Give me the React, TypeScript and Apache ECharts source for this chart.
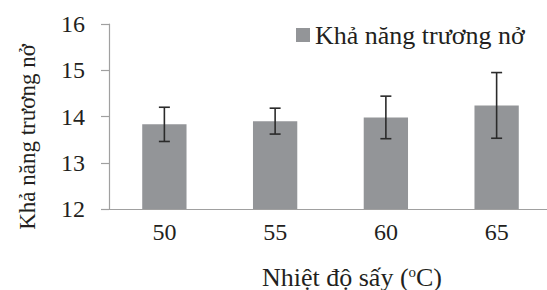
import React, { useEffect, useRef } from "react";
import * as echarts from "echarts";

const categories = ["50", "55", "60", "65"];
const values = [13.83, 13.9, 13.98, 14.24];
const errors = [0.37, 0.28, 0.46, 0.71];
const seriesName = "Khả năng trương nở";
const yTicks = { min: 12, max: 16, interval: 1 };
const xTitle = "Nhiệt độ sấy ({sup|o}C)";
const yTitle = "Khả năng trương nở";

const FONT = "Liberation Serif";
const TEXT = "#231f20";
const AXIS = "#a0a0a0";

const tickRich = { t: { fontFamily: FONT, fontSize: 24, color: TEXT, fontWeight: "normal" } };

export default function App() {
  const ref = useRef<HTMLDivElement>(null);
  useEffect(() => {
    if (!ref.current) return;
    const chart = echarts.init(ref.current, undefined, { renderer: "svg" });
    const errData = values.map((v, i) => [i, v - errors[i], v + errors[i]]);
    chart.setOption({
      animation: false,
      textStyle: { fontFamily: FONT, color: TEXT },
      grid: { left: 109, right: -5, top: 24, bottom: 81, outerBoundsMode: "none", containLabel: false },
      legend: {
        data: [seriesName],
        left: 291,
        top: 17,
        itemWidth: 14,
        itemHeight: 14,
        icon: "rect",
        textStyle: { fontFamily: FONT, fontSize: 26, color: TEXT },
      },
      xAxis: {
        type: "category",
        data: categories,
        axisLine: { lineStyle: { color: AXIS, width: 1.2 } },
        axisTick: { length: 6, lineStyle: { color: AXIS, width: 1.2 } },
        axisLabel: {
          fontFamily: FONT,
          fontSize: 24,
          color: TEXT,
          margin: 11,
          formatter: (v: string) => `{t|${v}}`,
          rich: tickRich,
        },
      },
      yAxis: {
        type: "value",
        min: yTicks.min,
        max: yTicks.max,
        interval: yTicks.interval,
        splitLine: { show: false },
        axisLine: { show: true, lineStyle: { color: AXIS, width: 1.2 } },
        axisTick: { show: true, length: 8, lineStyle: { color: AXIS, width: 1.2 } },
        axisLabel: {
          fontFamily: FONT,
          fontSize: 24,
          color: TEXT,
          margin: 24,
          formatter: (v: number) => `{t|${v}}`,
          rich: tickRich,
        },
      },
      graphic: [
        {
          type: "text",
          x: 27,
          y: 137,
          rotation: Math.PI / 2,
          style: {
            text: yTitle,
            fontFamily: FONT,
            fontSize: 23,
            fill: TEXT,
            align: "center",
            verticalAlign: "middle",
          },
        },
        {
          type: "text",
          x: 352,
          y: 277,
          style: {
            text: xTitle,
            fontFamily: FONT,
            fontSize: 26,
            fill: TEXT,
            align: "center",
            verticalAlign: "middle",
            rich: {
              sup: { fontFamily: FONT, fontSize: 15, fill: TEXT, verticalAlign: "top", padding: [0, 0, 8, 0] },
            },
          },
        },
      ],
      series: [
        {
          name: seriesName,
          type: "bar",
          data: values,
          barWidth: "40%",
          itemStyle: { color: "#939598" },
        },
        {
          type: "custom",
          data: errData,
          encode: { x: 0, y: [1, 2] },
          z: 10,
          renderItem: (params: any, api: any) => {
            const x = api.value(0);
            const lo = api.coord([x, api.value(1)]);
            const hi = api.coord([x, api.value(2)]);
            const hw = 5.5;
            const style = { stroke: "#2b2b2b", lineWidth: 1.6 };
            return {
              type: "group",
              children: [
                { type: "line", shape: { x1: lo[0], y1: lo[1], x2: hi[0], y2: hi[1] }, style },
                { type: "line", shape: { x1: hi[0] - hw, y1: hi[1], x2: hi[0] + hw, y2: hi[1] }, style },
                { type: "line", shape: { x1: lo[0] - hw, y1: lo[1], x2: lo[0] + hw, y2: lo[1] }, style },
              ],
            };
          },
        },
      ],
    });
    return () => chart.dispose();
  }, []);
  return <div ref={ref} style={{ width: 547, height: 290, position: "absolute", left: 0, top: 0 }} />;
}
